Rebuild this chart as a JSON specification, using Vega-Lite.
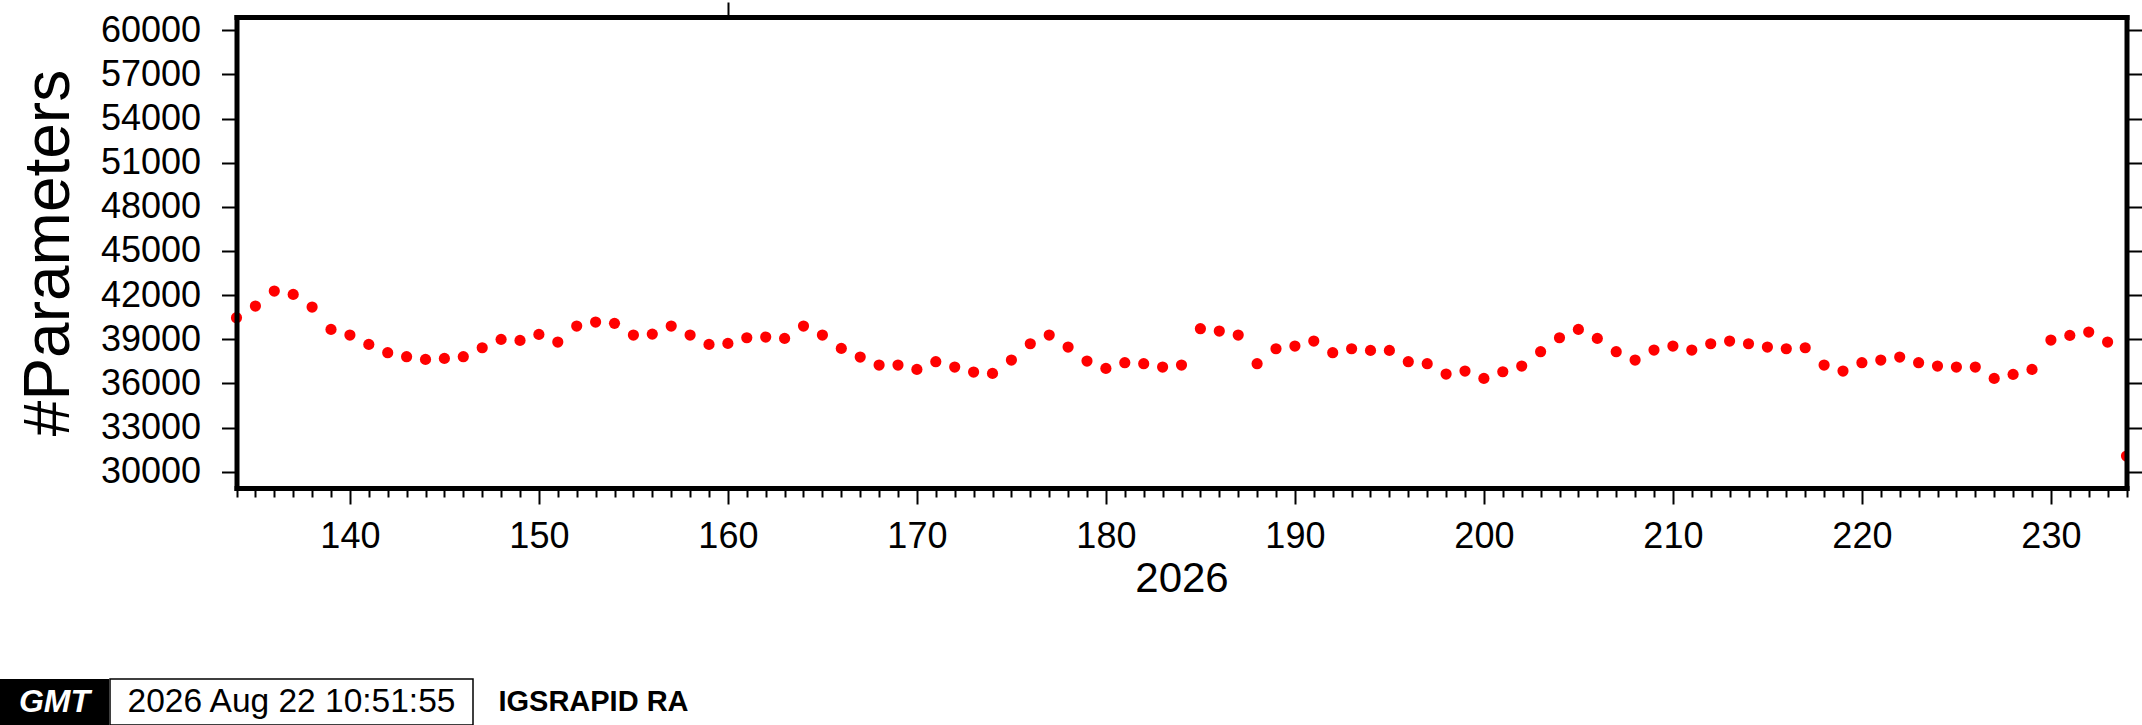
{
  "$schema": "https://vega.github.io/schema/vega-lite/v6.json",
  "background": "white",
  "padding": {"left": 0, "top": 1, "right": 0, "bottom": 0},
  "spacing": 79,
  "config": {"font": "Liberation Sans"},
  "vconcat": [
    {
      "width": 2126.5,
      "height": 471,
      "view": {"stroke": null, "fill": "white"},
      "layer": [
        {
          "data": {"values": [
            {"doy": 134, "n": 40465}, {"doy": 135, "n": 41258}, {"doy": 136, "n": 42278}, {"doy": 137, "n": 42051},
            {"doy": 138, "n": 41190}, {"doy": 139, "n": 39672}, {"doy": 140, "n": 39286}, {"doy": 141, "n": 38652},
            {"doy": 142, "n": 38086}, {"doy": 143, "n": 37814}, {"doy": 144, "n": 37632}, {"doy": 145, "n": 37700},
            {"doy": 146, "n": 37814}, {"doy": 147, "n": 38425}, {"doy": 148, "n": 38992}, {"doy": 149, "n": 38924},
            {"doy": 150, "n": 39332}, {"doy": 151, "n": 38811}, {"doy": 152, "n": 39898}, {"doy": 153, "n": 40170},
            {"doy": 154, "n": 40080}, {"doy": 155, "n": 39286}, {"doy": 156, "n": 39350}, {"doy": 157, "n": 39898},
            {"doy": 158, "n": 39286}, {"doy": 159, "n": 38652}, {"doy": 160, "n": 38720}, {"doy": 161, "n": 39105},
            {"doy": 162, "n": 39150}, {"doy": 163, "n": 39060}, {"doy": 164, "n": 39898}, {"doy": 165, "n": 39286},
            {"doy": 166, "n": 38380}, {"doy": 167, "n": 37791}, {"doy": 168, "n": 37247}, {"doy": 169, "n": 37247},
            {"doy": 170, "n": 36952}, {"doy": 171, "n": 37474}, {"doy": 172, "n": 37111}, {"doy": 173, "n": 36771},
            {"doy": 174, "n": 36680}, {"doy": 175, "n": 37587}, {"doy": 176, "n": 38697}, {"doy": 177, "n": 39286},
            {"doy": 178, "n": 38470}, {"doy": 179, "n": 37519}, {"doy": 180, "n": 37020}, {"doy": 181, "n": 37406},
            {"doy": 182, "n": 37338}, {"doy": 183, "n": 37111}, {"doy": 184, "n": 37247}, {"doy": 185, "n": 39717},
            {"doy": 186, "n": 39558}, {"doy": 187, "n": 39286}, {"doy": 188, "n": 37338}, {"doy": 189, "n": 38357},
            {"doy": 190, "n": 38539}, {"doy": 191, "n": 38879}, {"doy": 192, "n": 38086}, {"doy": 193, "n": 38357},
            {"doy": 194, "n": 38244}, {"doy": 195, "n": 38244}, {"doy": 196, "n": 37474}, {"doy": 197, "n": 37338},
            {"doy": 198, "n": 36635}, {"doy": 199, "n": 36839}, {"doy": 200, "n": 36341}, {"doy": 201, "n": 36794},
            {"doy": 202, "n": 37179}, {"doy": 203, "n": 38154}, {"doy": 204, "n": 39105}, {"doy": 205, "n": 39672},
            {"doy": 206, "n": 39060}, {"doy": 207, "n": 38154}, {"doy": 208, "n": 37587}, {"doy": 209, "n": 38267},
            {"doy": 210, "n": 38539}, {"doy": 211, "n": 38267}, {"doy": 212, "n": 38697}, {"doy": 213, "n": 38879},
            {"doy": 214, "n": 38697}, {"doy": 215, "n": 38470}, {"doy": 216, "n": 38357}, {"doy": 217, "n": 38425},
            {"doy": 218, "n": 37247}, {"doy": 219, "n": 36839}, {"doy": 220, "n": 37406}, {"doy": 221, "n": 37587},
            {"doy": 222, "n": 37791}, {"doy": 223, "n": 37406}, {"doy": 224, "n": 37179}, {"doy": 225, "n": 37111},
            {"doy": 226, "n": 37111}, {"doy": 227, "n": 36341}, {"doy": 228, "n": 36613}, {"doy": 229, "n": 36952},
            {"doy": 230, "n": 38947}, {"doy": 231, "n": 39264}, {"doy": 232, "n": 39490}, {"doy": 233, "n": 38811},
            {"doy": 234, "n": 31061}
          ]},
          "mark": {"type": "point", "filled": true, "color": "#ff0000", "size": 125, "opacity": 1, "strokeWidth": 0, "clip": true},
          "encoding": {
            "x": {
              "field": "doy", "type": "quantitative",
              "scale": {"domain": [134, 234], "range": [236.5, 2126.5], "nice": false, "zero": false},
              "axis": {
                "orient": "bottom", "zindex": 1,
                "values": [134,135,136,137,138,139,140,141,142,143,144,145,146,147,148,149,150,151,152,153,154,155,156,157,158,159,160,161,162,163,164,165,166,167,168,169,170,171,172,173,174,175,176,177,178,179,180,181,182,183,184,185,186,187,188,189,190,191,192,193,194,195,196,197,198,199,200,201,202,203,204,205,206,207,208,209,210,211,212,213,214,215,216,217,218,219,220,221,222,223,224,225,226,227,228,229,230,231,232,233,234],
                "format": "d",
                "domain": true, "domainColor": "black", "domainWidth": 5, "domainCap": "square",
                "tickSize": {"condition": {"test": "datum.value % 10 === 0", "value": 16}, "value": 9},
                "tickWidth": 2, "tickColor": "black", "grid": false,
                "labelExpr": "datum.value % 10 === 0 ? datum.label : ''",
                "labelOverlap": false, "labelFlush": false, "labelBound": false,
                "labelFontSize": 36, "labelColor": "black", "labelPadding": 15,
                "title": "2026", "titleFontSize": 42, "titleFontWeight": "normal", "titleColor": "black",
                "titleBaseline": "top", "titleAlign": "center", "titleX": 1181.5, "titleY": 70
              }
            },
            "y": {
              "field": "n", "type": "quantitative",
              "scale": {"domain": [28890, 60905], "nice": false, "zero": false},
              "axis": {
                "orient": "left", "offset": -236.5, "zindex": 1,
                "values": [30000, 33000, 36000, 39000, 42000, 45000, 48000, 51000, 54000, 57000, 60000],
                "format": "d",
                "domain": true, "domainColor": "black", "domainWidth": 5, "domainCap": "square",
                "tickSize": 15, "tickWidth": 2, "tickColor": "black", "grid": false,
                "labelFontSize": 36, "labelColor": "black", "labelPadding": 21,
                "labelOverlap": false, "labelFlush": false,
                "title": "#Parameters",
                "titleFontSize": 64, "titleFontWeight": "normal", "titleColor": "black",
                "titleAngle": -90, "titleAlign": "center", "titleBaseline": "alphabetic",
                "titleX": -168.5, "titleY": 235.5
              }
            }
          }
        },
        {
          "data": {"values": [{"k": 1}]},
          "mark": {"type": "rule", "opacity": 0},
          "encoding": {
            "y": {
              "datum": 30000, "type": "quantitative",
              "axis": {
                "orient": "right", "zindex": 1,
                "values": [30000, 33000, 36000, 39000, 42000, 45000, 48000, 51000, 54000, 57000, 60000],
                "domain": true, "domainColor": "black", "domainWidth": 5, "domainCap": "square",
                "labels": false, "tickSize": 15, "tickWidth": 2, "tickColor": "black",
                "grid": false, "title": null
              }
            }
          }
        },
        {
          "data": {"values": [{"k": 1}]},
          "mark": {"type": "rule", "opacity": 0},
          "encoding": {
            "x": {
              "datum": 160, "type": "quantitative",
              "axis": {
                "orient": "top", "values": [160], "zindex": 1,
                "domain": true, "domainColor": "black", "domainWidth": 5, "domainCap": "square",
                "labels": false, "tickSize": 15, "tickWidth": 2, "tickColor": "black",
                "grid": false, "title": null
              }
            }
          }
        }
      ],
      "resolve": {"axis": {"x": "independent", "y": "independent"}}
    },
    {
      "spacing": 0,
      "hconcat": [
        {
          "width": 109, "height": 46,
          "view": {"fill": "black", "stroke": null},
          "data": {"values": [{"t": "GMT"}]},
          "mark": {"type": "text", "color": "white", "fontSize": 32, "fontWeight": "bold", "fontStyle": "italic"},
          "encoding": {"text": {"field": "t", "type": "nominal"}}
        },
        {
          "width": 363, "height": 46,
          "view": {"fill": "white", "stroke": "black", "strokeWidth": 1.5},
          "data": {"values": [{"t": "2026 Aug 22 10:51:55"}]},
          "mark": {"type": "text", "color": "black", "fontSize": 33.5},
          "encoding": {"text": {"field": "t", "type": "nominal"}}
        },
        {
          "width": 239, "height": 46,
          "view": {"stroke": null},
          "data": {"values": [{"t": "IGSRAPID RA"}]},
          "mark": {"type": "text", "color": "black", "fontSize": 29, "fontWeight": "bold"},
          "encoding": {"text": {"field": "t", "type": "nominal"}}
        }
      ]
    }
  ]
}
